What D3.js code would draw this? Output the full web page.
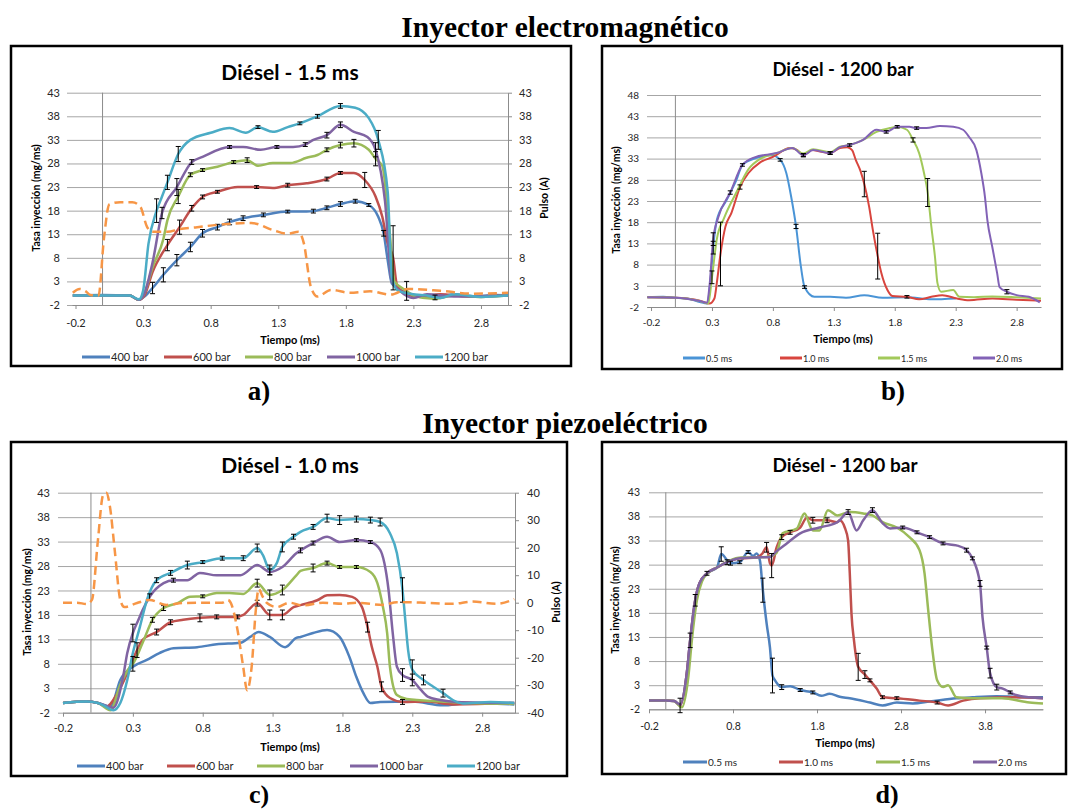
<!DOCTYPE html>
<html>
<head>
<meta charset="utf-8">
<script src="https://cdn.jsdelivr.net/npm/d3@7"></script>
<style>
  body { margin: 0; background: #fff; }
</style>
</head>
<body>
<svg id="fig" width="1074" height="809"></svg>
<script>
// ---------- data ----------
const xTicks3 = [-0.2, 0.3, 0.8, 1.3, 1.8, 2.3, 2.8];
const xTicks45 = [-0.2, 0.8, 1.8, 2.8, 3.8];
const yTicks43 = [-2, 3, 8, 13, 18, 23, 28, 33, 38, 43];
const yTicks48 = [-2, 3, 8, 13, 18, 23, 28, 33, 38, 43, 48];
const pulseTicksC = [-40, -30, -20, -10, 0, 10, 20, 30, 40];
const pressureNames = ['400 bar', '600 bar', '800 bar', '1000 bar', '1200 bar'];
const durationNames = ['0.5 ms', '1.0 ms', '1.5 ms', '2.0 ms'];

// [tiempo (ms), tasa (mg/ms), error bar half height (optional)]
// a) electromagnetic, 1.5 ms
const a400 = [[-0.22,0],[0.0,0.1],[0.2,0],[0.27,-0.9],[0.31,-0.2],[0.37,1.6,1.2],[0.45,4.4,1.5],[0.55,7.5,1.2],[0.65,10.3,1.0],[0.74,13.2,0.8],[0.85,14.5,0.6],[0.94,15.6,0.6],[1.04,16.4,0.5],[1.19,17.1,0.4],[1.37,17.8,0.3],[1.51,17.8],[1.56,17.9,0.4],[1.66,18.6,0.4],[1.76,19.4,0.5],[1.87,20,0.4],[1.97,19.2,0.3],[2.04,16.7],[2.08,13.2,0.6],[2.11,7.5],[2.14,2.6],[2.2,1.2],[2.3,0.2],[2.4,-0.3],[2.46,-0.4,0.5],[2.6,0.3],[2.75,-0.2],[2.9,0.1],[3.0,0]];
const a600 = [[-0.22,0],[0.2,0],[0.27,-0.9],[0.31,0],[0.37,5],[0.48,10.7,1.2],[0.57,14.5,1.5],[0.66,18.5,0.6],[0.74,20.9,0.4],[0.85,22,0.3],[1.0,23],[1.14,23,0.3],[1.26,22.8],[1.37,23.4,0.4],[1.51,23.8],[1.66,24.7,0.4],[1.76,26,0.3],[1.86,26],[1.94,24.5,1.6],[2.02,21],[2.07,16.7],[2.11,11],[2.15,8,6.8],[2.18,2],[2.24,0.5],[2.35,-0.3],[2.5,0.3],[2.7,-0.2],[3.0,0]];
const a800 = [[-0.22,0],[0.2,0],[0.27,-0.9],[0.31,0.5],[0.37,6],[0.45,12],[0.48,16],[0.56,21,1.5],[0.65,25.6,0.4],[0.74,26.6,0.3],[0.85,27.3],[0.97,28.3,0.3],[1.07,28.7,0.5],[1.15,27.5],[1.26,28.1],[1.39,28.1],[1.51,29.2],[1.59,29.8],[1.66,30.9,0.4],[1.76,31.9,0.6],[1.86,32.3,0.8],[1.97,30.9],[2.02,29,1.5],[2.07,27.5],[2.12,15],[2.16,3],[2.25,1,2],[2.3,0],[2.45,-0.7],[2.6,0],[2.8,-0.3],[3.0,0]];
const a1000 = [[-0.22,0],[0.2,0],[0.27,-0.9],[0.31,0.5],[0.37,7],[0.44,17.5,1.2],[0.55,23,1.8],[0.66,28.3,0.5],[0.74,29.4],[0.94,31.5,0.3],[1.04,31.5],[1.17,30.9],[1.29,31.5,0.3],[1.41,31.5],[1.5,32,0.4],[1.56,33],[1.66,34,0.6],[1.76,36.2,0.6],[1.86,34.7],[1.96,33.6],[2.02,30.9,1.5],[2.09,20],[2.14,3],[2.2,1],[2.3,-0.5],[2.4,0.3],[2.6,-0.2],[3.0,0]];
const a1200 = [[-0.22,0],[0.2,0],[0.27,-0.8],[0.3,1],[0.34,11],[0.4,18,2.5],[0.44,21],[0.48,24,1.5],[0.56,30,1.6],[0.65,33],[0.8,34.5],[0.94,35.5],[1.06,34.5],[1.15,35.7,0.3],[1.26,34.7],[1.37,35.7],[1.46,36.5,0.3],[1.59,38,0.4],[1.76,40.2,0.5],[1.87,39.8],[1.97,37.6],[2.04,33,2],[2.11,22],[2.14,4],[2.18,1.2],[2.25,0.5],[2.4,0],[2.5,-0.5],[2.6,0.3],[2.8,-0.3],[3.0,0]];
const aPulse = [[-0.22,0.6],[-0.17,1.4],[-0.12,0.8],[-0.09,0.1],[-0.03,0],[0.01,12],[0.05,19.3],[0.13,19.8],[0.22,19.8],[0.28,18.8],[0.33,14.5],[0.37,13.5],[0.48,13.5],[0.57,14.1],[0.7,14.5],[0.85,15],[1.1,15.4],[1.26,13.9],[1.37,13.1],[1.45,13.5],[1.49,11],[1.54,2],[1.59,-0.2],[1.69,1.2],[1.83,0.6],[1.98,0.9],[2.13,0.2],[2.26,1.4],[2.5,1],[2.74,0.4],[3.0,0.6]];

// b) electromagnetic, 1200 bar
const b05 = [[-0.23,0.3],[-0.1,0.4],[0.0,0.2],[0.1,0],[0.2,-0.8],[0.26,-1.2],[0.29,5],[0.31,12,1.5],[0.34,18.5],[0.42,23.2],[0.5,27.9],[0.55,31.5],[0.66,33.1],[0.79,33.8],[0.86,32.7,0.3],[0.91,29.6],[0.95,24],[0.99,17,0.5],[1.03,7.5],[1.06,2.7,0.3],[1.14,0.4],[1.27,0.4],[1.4,0.2],[1.55,0.8],[1.7,0.2],[1.9,0.3],[2.1,-0.2],[2.3,0]];
const b10 = [[-0.23,0.3],[0.0,0.2],[0.2,-0.5],[0.28,-1.2],[0.32,0],[0.34,3.7],[0.37,10.5,7.5],[0.41,16.9],[0.46,20.2],[0.53,26.3,0.5],[0.6,29.6],[0.69,32],[0.8,33.4],[0.94,35.5],[1.0,35],[1.05,33.8,0.4],[1.12,35],[1.2,34.6],[1.27,34.3,0.3],[1.35,35.5],[1.41,35.7],[1.45,35],[1.48,32.7],[1.52,30],[1.55,27,3],[1.59,21.6],[1.62,16.2],[1.66,10,5.4],[1.69,6],[1.74,2],[1.78,0.6],[1.9,0.4,0.3],[2.0,-0.2],[2.1,0.4],[2.19,0.8],[2.31,0],[2.41,-0.4],[2.6,0],[2.8,-0.3],[3.0,-0.5]];
const b15 = [[-0.23,0.3],[0.0,0.2],[0.2,-0.6],[0.27,-1.2],[0.3,5,1.5],[0.34,14],[0.4,19],[0.5,25],[0.6,30.5],[0.7,33],[0.83,34.3],[0.96,35.5],[1.05,34.2],[1.13,35.2],[1.27,34.5],[1.35,35.8],[1.43,36.2],[1.54,37.4],[1.65,39.3],[1.76,40.2],[1.82,40.5],[1.9,39.8],[1.95,37.4,0.5],[2.0,34.3],[2.04,29.6],[2.07,25,3.3],[2.1,17],[2.13,9.8],[2.15,3.7],[2.18,1.6],[2.28,2],[2.33,0.4],[2.45,0.3],[2.6,0.5],[2.8,0.3],[3.0,0]];
const b20 = [[-0.23,0.3],[0.0,0.2],[0.2,-0.6],[0.26,-1],[0.28,3],[0.31,14,1.5],[0.35,19],[0.45,25,0.4],[0.55,31.5,0.3],[0.65,33.3],[0.83,34.3],[0.96,35.5],[1.05,33.8,0.3],[1.13,35],[1.27,34.3,0.3],[1.35,35.7],[1.43,36.2,0.3],[1.54,37.4],[1.65,39.8],[1.73,39.3,0.3],[1.82,40.5,0.3],[1.92,40.5],[1.98,40.2,0.3],[2.06,40.2],[2.17,40.7],[2.28,40.5],[2.36,39.8],[2.41,38.1],[2.47,35],[2.51,29.6],[2.54,24],[2.56,18.5],[2.6,12.2],[2.64,6],[2.66,2.7],[2.72,1.6,0.5],[2.8,0.8],[2.9,0.4],[2.99,-0.9]];

// c) piezoelectric, 1.0 ms
const c400 = [[-0.2,0],[-0.03,0.3],[0.05,0],[0.14,-0.8],[0.21,4.7],[0.3,7.4],[0.4,8.8],[0.49,10.2],[0.59,11.2],[0.76,11.4],[0.9,12],[1.07,12.3],[1.14,13.5],[1.2,14.5],[1.28,13.5],[1.39,11.4],[1.47,13.3],[1.5,13.5],[1.59,14.3],[1.69,14.9],[1.78,13.5],[1.85,9.4],[1.9,5.3],[1.95,2],[2.0,0],[2.07,0.2],[2.3,0.3],[2.52,-0.5],[2.7,0],[3.03,-0.3]];
const c600 = [[-0.2,0],[-0.03,0.3],[0.05,0],[0.11,-0.8],[0.19,2],[0.28,7.4],[0.33,10.8,1.5],[0.37,12.9],[0.47,14.5,0.6],[0.57,16.5,0.5],[0.66,17],[0.78,17.4,0.8],[0.9,17.6,0.4],[1.05,17.6,0.4],[1.09,18],[1.19,20.4,0.6],[1.28,18,1],[1.37,18,1],[1.45,19.6],[1.5,20],[1.62,21],[1.69,22],[1.78,22.1],[1.87,21.7],[1.94,19.6],[1.98,15.5,1],[2.01,11.5],[2.05,7.4],[2.08,3.3,1],[2.14,1],[2.23,0.2,0.5],[2.4,0.3],[2.6,-0.3],[3.03,0]];
const c800 = [[-0.2,0],[-0.03,0.3],[0.05,0],[0.14,-1.5],[0.21,3.7],[0.28,7.4],[0.3,8,1.5],[0.37,12.3],[0.44,17,0.5],[0.52,19.4,0.5],[0.62,20.4],[0.71,21.7],[0.8,21.8,0.3],[0.9,22.5],[0.99,22.5],[1.09,22.3],[1.19,24.5,0.8],[1.28,22.1,1],[1.37,23.1,1],[1.47,26.1],[1.5,27],[1.59,27.6,0.8],[1.69,28.6,0.4],[1.78,27.8,0.3],[1.9,27.8,0.3],[2.0,26.8],[2.05,24.5],[2.09,19.6],[2.12,14.3],[2.14,7.4],[2.19,1.6],[2.26,0.8],[2.5,0.3],[2.7,0],[3.03,-0.2]];
const c1000 = [[-0.2,0],[-0.03,0.3],[0.05,0],[0.16,-1],[0.23,5.3],[0.26,10.2],[0.3,14.3,1.8],[0.34,17],[0.37,19],[0.42,21.7,0.6],[0.52,24.5],[0.59,25.1,0.4],[0.69,25.1],[0.78,26.6],[0.9,26.1],[1.07,26.1],[1.19,28.2],[1.28,26.8,0.6],[1.37,27.8],[1.47,30.6],[1.5,31.2,0.5],[1.59,32.7,0.4],[1.69,34],[1.78,32.9],[1.9,33.3,0.3],[2.0,32.9,0.3],[2.07,31.3],[2.1,28.6],[2.13,23.1],[2.16,14.3],[2.19,7.4],[2.23,5.7,1.3],[2.3,4.7,1.2],[2.36,2.7],[2.41,1.3],[2.5,0.6],[2.62,0.2],[3.03,0]];
const c1200 = [[-0.2,0],[-0.03,0.3],[0.05,0],[0.09,-0.5],[0.16,-1.5],[0.21,0],[0.26,4.7],[0.3,10.2],[0.35,15.5],[0.4,21],[0.47,25.1,0.5],[0.57,26.6,0.5],[0.69,28.2,0.8],[0.8,28.8,0.3],[0.94,29.6,0.4],[1.09,29.6,0.5],[1.19,31.7,0.8],[1.23,30.3],[1.28,27.2,1],[1.33,28.6],[1.37,31.9,1],[1.45,34,0.5],[1.5,35],[1.59,36,0.5],[1.69,37.8,0.8],[1.78,37.4,0.9],[1.9,37.6,0.6],[2.0,37.4,0.6],[2.07,37,0.8],[2.14,34.7],[2.19,30.6],[2.23,23.1,2.5],[2.25,16.9],[2.27,10.8],[2.3,6.8,2],[2.38,4.7,1],[2.45,3.3],[2.52,2,0.8],[2.59,0.6],[2.66,-0.1],[2.86,0.2],[3.03,0]];
// pulse in A (right axis)
const cPulse = [[-0.2,0],[-0.1,0],[-0.03,-0.5],[0.007,1],[0.05,22.8],[0.086,39],[0.11,40],[0.136,34.9],[0.17,19.2],[0.21,1],[0.24,-1.6],[0.33,-0.1],[0.42,1],[0.54,-0.8],[0.66,-0.1],[0.94,0],[0.98,1],[1.0,0],[1.045,-8.8],[1.09,-23.4],[1.117,-31.8],[1.15,-23.4],[1.18,-2.7],[1.2,5],[1.23,2.1],[1.26,-0.1],[1.33,-1.6],[1.42,0],[1.52,-1],[1.66,0],[1.8,-0.4],[1.9,0],[2.09,-0.8],[2.19,0.2],[2.38,0],[2.59,-0.4],[2.73,0.4],[2.9,-0.4],[3.03,1.3]];

// d) piezoelectric, 1200 bar
const d05 = [[-0.2,-0.2],[0.0,-0.2],[0.1,-0.3],[0.17,-1.2,1.5],[0.25,5.5],[0.29,12.3,1.5],[0.35,20.6,1.2],[0.4,24.1],[0.49,26.2,0.4],[0.61,27.4],[0.66,30.2,1.5],[0.77,28.3,0.4],[0.88,28.5,0.3],[0.98,30.6,0.3],[1.04,29.8],[1.08,30.3],[1.12,28.9],[1.155,22.7,2.5],[1.2,15.8],[1.24,10.8],[1.27,5,3.6],[1.3,4],[1.38,2.6,0.5],[1.48,2.8],[1.6,2,0.3],[1.75,1.5,0.3],[1.85,0.8],[1.95,1.2],[2.07,0.6],[2.19,0.3],[2.43,-0.6],[2.58,-1.2],[2.75,-0.6],[2.94,-0.8],[3.14,-0.4],[3.46,0.3],[3.65,0.5],[3.94,0.7],[4.33,0.5],[4.49,0.5]];
const d10 = [[-0.2,-0.2],[0.0,-0.2],[0.1,-0.3],[0.17,-1.2],[0.25,5.5],[0.29,12.3],[0.35,20.6],[0.4,24.1],[0.49,26.2],[0.61,27.4],[0.73,28.5,0.5],[0.88,29.3],[1.08,29.5],[1.15,30.3],[1.2,31.6,1],[1.24,28.3],[1.26,27.8,2.5],[1.32,31.6],[1.38,33.7,0.5],[1.48,34.7,0.4],[1.6,35.7],[1.68,37.8],[1.75,37.2,0.6],[1.92,37.2,0.5],[2.04,36.8],[2.07,37.2],[2.13,35.7],[2.17,33],[2.19,26.2],[2.21,17.9],[2.24,12.3],[2.29,6.8,2.8],[2.37,5.2,0.8],[2.43,4,0.3],[2.51,2.3],[2.58,0.5,0.3],[2.75,0.3,0.3],[3.02,-0.2],[3.23,-0.6,0.3],[3.36,-1.2],[3.54,-0.2],[3.74,0.3],[4.18,0.5],[4.49,0.3]];
const d15 = [[-0.2,-0.2],[0.0,-0.2],[0.1,-0.3],[0.19,-1.6],[0.27,5],[0.31,12.3],[0.37,20.6],[0.43,24.5],[0.52,26.5],[0.63,27.6],[0.75,28.8],[0.9,29.5],[1.08,29.5],[1.24,29.7],[1.32,30.5],[1.39,34.5],[1.56,35.5],[1.65,38.6],[1.75,35.1],[1.83,35.1],[1.93,39.3],[2.04,38.2],[2.19,38.9],[2.35,38.6],[2.46,38.2],[2.58,36.8],[2.75,35.7],[2.9,33.7],[3.02,31],[3.08,26.2],[3.12,19.2],[3.17,10.8],[3.23,4],[3.3,2.6],[3.36,3],[3.46,0.5],[3.65,0.3],[4.0,0.3],[4.33,-0.6],[4.49,-0.8]];
const d20 = [[-0.2,-0.2],[0.0,-0.2],[0.1,-0.3],[0.17,-1],[0.25,5.5],[0.29,12.3],[0.35,20.6],[0.4,24.1],[0.49,26.2],[0.61,27.4],[0.73,28.5],[0.88,29.3],[1.08,29.5],[1.24,29.6],[1.32,30.8],[1.44,32.4],[1.6,34.5],[1.83,35.7],[2.04,36.8],[2.07,37.2],[2.17,38.9,0.5],[2.27,35.1],[2.35,37.2],[2.46,39.3,0.5],[2.58,36.6],[2.67,35.5],[2.82,35.7,0.3],[2.99,34.7,0.3],[3.14,33.7,0.3],[3.3,32.4,0.3],[3.46,32],[3.58,31,0.4],[3.65,29.3,0.3],[3.74,24.1,0.6],[3.77,17.1],[3.82,10.8,0.3],[3.86,5.5,1],[3.94,2.6,0.6],[4.01,2.3],[4.1,1.5,0.3],[4.18,0.9],[4.33,0.5],[4.49,0.3]];

// ---------- drawing ----------
const FONT = 'Lato, "Open Sans", sans-serif';
const SERIF = '"Liberation Serif", "DejaVu Serif", serif';
const excel = ['#4f81bd', '#c0504d', '#9bbb59', '#8064a2', '#4bacc6'];
const excelSoft = ['#4a94d6', '#d8453e', '#a2c95a', '#8262b6'];
const pulseColor = '#f79646';

const svg = d3.select('#fig');
svg.append('rect').attr('width', 1074).attr('height', 809).attr('fill', '#fff');

function drawPanel(p){
    const g = svg.append('g');

    g.append('rect')
        .attr('x', p.frame[0]).attr('y', p.frame[1])
        .attr('width', p.frame[2] - p.frame[0]).attr('height', p.frame[3] - p.frame[1])
        .attr('fill', '#fff').attr('stroke', '#000').attr('stroke-width', 2.5);

    const x = d3.scaleLinear().domain(p.xDomain).range([p.left, p.right]);
    const y = d3.scaleLinear().domain(p.yDomain).range([p.bottom, p.top]);

    // gridlines + left labels
    const gy = g.append('g')
        .attr('transform', `translate(${p.left - p.tickOut},0)`)
        .call(d3.axisLeft(y).tickValues(p.yTicks)
            .tickSize(-(p.right - p.left + p.tickOut)).tickPadding(p.yPad)
            .tickFormat(d => String(d)));
    gy.select('.domain').remove();
    gy.selectAll('line').attr('stroke', '#a6a6a6');
    gy.selectAll('text').attr('font-size', p.fs).attr('font-family', FONT).attr('fill', '#262626');

    // value axis line at t = 0
    g.append('line')
        .attr('x1', x(0)).attr('x2', x(0)).attr('y1', p.top).attr('y2', p.bottom)
        .attr('stroke', '#8c8c8c');

    // time axis
    const gx = g.append('g')
        .attr('transform', `translate(0,${p.bottom})`)
        .call(d3.axisBottom(x).tickValues(p.xTicks).tickSizeInner(4).tickSizeOuter(0)
            .tickPadding(p.xPad).tickFormat(d => String(d)));
    gx.select('.domain').attr('stroke', '#8c8c8c');
    gx.selectAll('line').attr('stroke', '#8c8c8c');
    gx.selectAll('text').attr('font-size', p.fs).attr('font-family', FONT).attr('fill', '#262626');

    // secondary axis (pulse)
    let yR = null;
    if (p.yRightTicks){
        yR = d3.scaleLinear().domain(p.yRightDomain).range([p.bottom, p.top]);
        const gr = g.append('g')
            .attr('transform', `translate(${p.right},0)`)
            .call(d3.axisRight(yR).tickValues(p.yRightTicks).tickSizeInner(4).tickSizeOuter(0)
                .tickPadding(p.yPad).tickFormat(d => String(d)));
        gr.select('.domain').attr('stroke', '#8c8c8c');
        gr.selectAll('line').attr('stroke', '#8c8c8c');
        gr.selectAll('text').attr('font-size', p.fs).attr('font-family', FONT).attr('fill', '#262626');
    }

    // series
    const line = d3.line().x(d => x(d[0])).y(d => y(d[1])).curve(d3.curveMonotoneX);
    p.series.forEach((s, i) => {
        g.append('path').attr('d', line(s))
            .attr('fill', 'none').attr('stroke', p.colors[i])
            .attr('stroke-width', p.lw).attr('stroke-linejoin', 'round');
    });

    // error bars
    p.series.forEach(s => {
        s.filter(d => d.length > 2).forEach(d => {
            const cx = x(d[0]), y1 = y(d[1] - d[2]), y2 = y(d[1] + d[2]);
            g.append('line').attr('x1', cx).attr('x2', cx).attr('y1', y1).attr('y2', y2)
                .attr('stroke', '#000').attr('stroke-width', 1);
            [y1, y2].forEach(yy => g.append('line')
                .attr('x1', cx - 2.5).attr('x2', cx + 2.5).attr('y1', yy).attr('y2', yy)
                .attr('stroke', '#000').attr('stroke-width', 1));
        });
    });

    if (p.pulse){
        const pl = d3.line().x(d => x(d[0])).y(d => yR(d[1])).curve(d3.curveMonotoneX);
        g.append('path').attr('d', pl(p.pulse))
            .attr('fill', 'none').attr('stroke', pulseColor)
            .attr('stroke-width', 2.5).attr('stroke-dasharray', '9,5');
    }

    // titles
    g.append('text').attr('x', p.title[0]).attr('y', p.title[1])
        .attr('text-anchor', 'middle').attr('font-family', FONT)
        .attr('font-weight', 'bold').attr('font-size', p.titleFs).text(p.title[2]);

    g.append('text').attr('x', p.xLabel[0]).attr('y', p.xLabel[1])
        .attr('text-anchor', 'middle').attr('font-family', FONT)
        .attr('font-weight', 'bold').attr('font-size', 11).text('Tiempo (ms)');

    g.append('text')
        .attr('transform', `translate(${p.yLabel[0]},${p.yLabel[1]}) rotate(-90)`)
        .attr('text-anchor', 'middle').attr('font-family', FONT)
        .attr('font-weight', 'bold').attr('font-size', 10.5).text('Tasa inyección (mg/ms)');

    if (p.yRightLabel){
        g.append('text')
            .attr('transform', `translate(${p.yRightLabel[0]},${p.yRightLabel[1]}) rotate(-90)`)
            .attr('text-anchor', 'middle').attr('font-family', FONT)
            .attr('font-weight', 'bold').attr('font-size', 10.5).text('Pulso (A)');
    }

    // legend
    p.names.forEach((n, i) => {
        const lx = p.legendX[i];
        g.append('line').attr('x1', lx - p.legendLen).attr('x2', lx)
            .attr('y1', p.legendY).attr('y2', p.legendY)
            .attr('stroke', p.colors[i]).attr('stroke-width', 3);
        g.append('text').attr('x', lx + 1).attr('y', p.legendY + 4)
            .attr('font-family', FONT).attr('font-size', p.legendFs)
            .attr('fill', '#262626').text(n);
    });
}

drawPanel({
    frame: [11, 46, 571, 366],
    left: 72, right: 508, top: 92.7, bottom: 305,
    xDomain: [-0.226, 3.0], yDomain: [-2, 43],
    xTicks: xTicks3, yTicks: yTicks43,
    yRightDomain: [-2, 43], yRightTicks: yTicks43,
    tickOut: 5, yPad: 7, xPad: 10, fs: 11,
    series: [a400, a600, a800, a1000, a1200], colors: excel, lw: 2.5,
    pulse: aPulse,
    title: [290, 80, 'Diésel - 1.5 ms'], titleFs: 21,
    xLabel: [290, 344], yLabel: [40, 198], yRightLabel: [548, 198],
    names: pressureNames, legendX: [110, 192, 273, 355, 443], legendLen: 28,
    legendY: 357, legendFs: 11
});

drawPanel({
    frame: [602, 46, 1062, 369],
    left: 647, right: 1041, top: 95, bottom: 307,
    xDomain: [-0.233, 3.0], yDomain: [-2, 48],
    xTicks: xTicks3, yTicks: yTicks48,
    tickOut: 0, yPad: 8, xPad: 8, fs: 10,
    series: [b05, b10, b15, b20], colors: excelSoft, lw: 2,
    title: [843, 76, 'Diésel - 1200 bar'], titleFs: 18.5,
    xLabel: [843, 343], yLabel: [620, 200],
    names: durationNames, legendX: [705, 802, 900, 995], legendLen: 22,
    legendY: 358, legendFs: 9
});

drawPanel({
    frame: [11, 442, 567, 776],
    left: 63, right: 515, top: 492.7, bottom: 712.7,
    xDomain: [-0.2, 3.035], yDomain: [-2, 43],
    xTicks: xTicks3, yTicks: yTicks43,
    yRightDomain: [-40, 40], yRightTicks: pulseTicksC,
    tickOut: 5, yPad: 8, xPad: 8, fs: 11,
    series: [c400, c600, c800, c1000, c1200], colors: excel, lw: 2.5,
    pulse: cPulse,
    title: [290, 473, 'Diésel - 1.0 ms'], titleFs: 21,
    xLabel: [290, 751], yLabel: [31, 602], yRightLabel: [560, 602],
    names: pressureNames, legendX: [105, 195, 285, 378, 475], legendLen: 28,
    legendY: 766, legendFs: 11
});

drawPanel({
    frame: [602, 442, 1066, 774],
    left: 649, right: 1043, top: 492.3, bottom: 709.3,
    xDomain: [-0.2, 4.49], yDomain: [-2, 43],
    xTicks: xTicks45, yTicks: yTicks43,
    tickOut: 0, yPad: 9, xPad: 9, fs: 10.5,
    series: [d05, d10, d15, d20], colors: excel, lw: 2.5,
    title: [845, 472, 'Diésel - 1200 bar'], titleFs: 19,
    xLabel: [845, 747], yLabel: [619, 600],
    names: durationNames, legendX: [707, 803, 900, 997], legendLen: 24,
    legendY: 762, legendFs: 10
});

// figure headings and panel letters
const heads = [
    [565, 37, 'Inyector electromagnético', 29.5],
    [565, 433, 'Inyector piezoeléctrico', 29.5],
    [259, 400, 'a)', 27], [893, 400, 'b)', 27],
    [259, 803, 'c)', 26], [887, 803, 'd)', 26]
];
heads.forEach(h => svg.append('text').attr('x', h[0]).attr('y', h[1])
    .attr('text-anchor', 'middle').attr('font-family', SERIF)
    .attr('font-weight', 'bold').attr('font-size', h[3]).text(h[2]));
</script>
</body>
</html>
